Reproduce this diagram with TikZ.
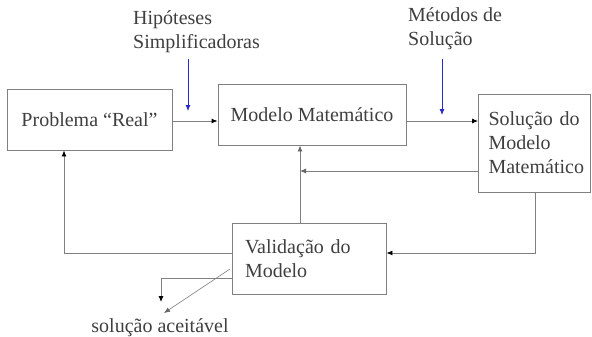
\documentclass[tikz,border=0pt]{standalone}
\usepackage{fontspec}
\setmainfont{Liberation Serif}
\usetikzlibrary{arrows.meta}
\definecolor{txt}{HTML}{3F3F3F}
\definecolor{ln}{HTML}{808080}
\definecolor{bl}{HTML}{2A2AC8}
\tikzset{
  box/.style={draw=ln, line width=0.9pt, rectangle, inner sep=0pt, text=txt,
    font=\fontsize{20}{24}\selectfont},
  lbl/.style={inner sep=0pt, text=txt, font=\fontsize{20}{24}\selectfont, align=left},
  con/.style={draw=ln, line width=0.9pt, -{Latex[length=6pt,width=5pt,color=black]}},
  gcon/.style={draw=ln, line width=0.9pt, -{Latex[length=6pt,width=5pt,color=ln!80!black]}},
  bcon/.style={draw=bl, line width=0.8pt, -{Latex[length=6pt,width=5pt]}}
}
\begin{document}
\begin{tikzpicture}[x=1pt,y=-1pt]
\useasboundingbox (0,0) rectangle (592,337);
\node[box, minimum width=165pt, minimum height=61pt] (P) at (89.5,119.5) {Problema “Real”};
\node[box, minimum width=188pt, minimum height=61pt] (M) at (312,114.5) {Modelo Matemático};
\node[box, text width=91.5pt, inner xsep=10pt, minimum height=98pt, align=left] (S) at (534.25,143) {Solução do\\Modelo\\Matemático};
\node[box, text width=128pt, inner xsep=13pt, minimum height=71pt, align=left] (V) at (309,258.5) {Validação do\\Modelo};
\node[lbl, anchor=north west] (H) at (133,10) {Hipóteses\\Simplificadoras};
\node[lbl, anchor=north west] (T) at (408,7) {Métodos de\\Solução};
\node[lbl, anchor=base] (A) at (160,332) {solução aceitável};
\coordinate (h1) at (188,59);
\coordinate (h2) at (188,111);
\coordinate (t1) at (442,59);
\coordinate (t2) at (442,115);
\coordinate (fb) at (300,171);
\coordinate (a1) at (161,302);
\coordinate (d0) at (230,269);
\coordinate (d1) at (164,313);
\draw[bcon] (h1) -- (h2);
\draw[bcon] (t1) -- (t2);
\draw[con] (P.east |- 0,121) -- (M.west |- 0,121);
\draw[con] (M.east |- 0,121) -- (S.west |- 0,121);
\draw[gcon] (S.west |- 0,171) -- (fb);
\draw[gcon] (V.north -| 300,0) -- (M.south -| 300,0);
\draw[con] (S.south -| 535,0) |- (V.east |- 0,253);
\draw[con] (V.west |- 0,253) -| (P.south -| 64,0);
\draw[con] (V.west |- 0,278) -| (a1);
\draw[gcon, line width=0.6pt] (d0) -- (d1);
\end{tikzpicture}
\end{document}
